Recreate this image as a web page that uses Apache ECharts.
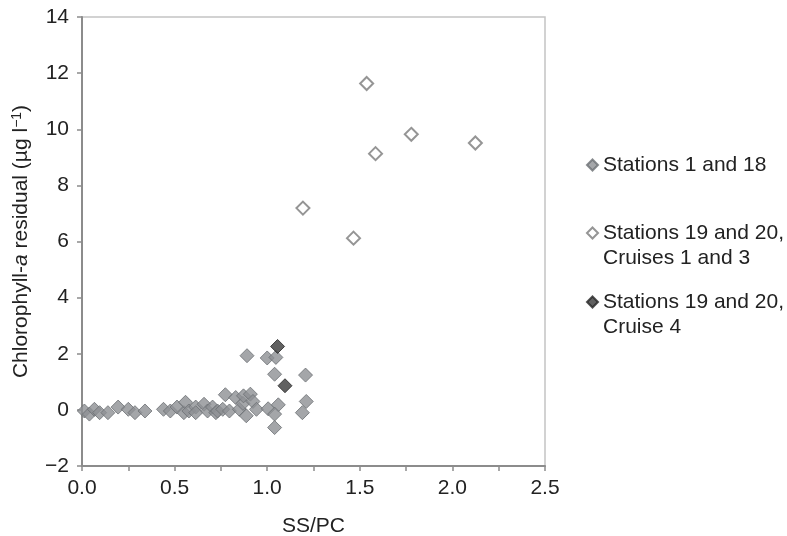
<!DOCTYPE html>
<html>
<head>
<meta charset="utf-8">
<script src="https://cdn.jsdelivr.net/npm/echarts@6/dist/echarts.min.js"></script>
<style>
  html, body { margin: 0; padding: 0; background: #fff; }
  #chart { width: 787px; height: 536px; }
</style>
</head>
<body>
<div id="chart"></div>
<script>
// SS/PC ratio (x) and chlorophyll-a residual (y) per station group
const stations118X = [0.013, 0.04, 0.067, 0.095, 0.14, 0.195, 0.25, 0.286, 0.34,
  0.44, 0.477, 0.513, 0.55, 0.559, 0.577, 0.614, 0.614, 0.659, 0.678, 0.705, 0.723,
  0.732, 0.76, 0.774, 0.796, 0.83, 0.85, 0.869, 0.872, 0.887, 0.909, 0.923, 0.942,
  0.891, 1.0, 1.047, 1.04, 1.005, 1.06, 1.04, 1.04, 1.207, 1.211, 1.19];
const stations118Y = [-0.04, -0.15, 0.02, -0.1, -0.1, 0.1, 0.02, -0.1, -0.04,
  0.02, -0.04, 0.1, -0.1, 0.27, -0.04, 0.1, -0.1, 0.2, -0.04, 0.1, -0.1,
  -0.04, 0.02, 0.54, -0.04, 0.44, 0.02, 0.23, 0.5, -0.21, 0.56, 0.3, 0.02,
  1.93, 1.85, 1.87, 1.27, 0.04, 0.18, -0.15, -0.63, 1.24, 0.3, -0.1];

const cruises13X = [1.537, 1.778, 2.124, 1.585, 1.193, 1.466];
const cruises13Y = [11.63, 9.82, 9.51, 9.13, 7.19, 6.12];

const cruise4X = [1.056, 1.096];
const cruise4Y = [2.26, 0.86];

const xTicks = { min: 0, max: 2.5, interval: 0.25 };
const yTicks = { min: -2, max: 14, interval: 2 };

const seriesNames = ['Stations 1 and 18', 'Stations 19 and 20,\nCruises 1 and 3', 'Stations 19 and 20,\nCruise 4'];

const pairs = (xs, ys) => xs.map((x, i) => [x, ys[i]]);

const FONT = 'Liberation Sans, Arial, sans-serif';
const TXT = '#222';
const AXIS = '#8c8c8c';
const LEGEND_LINE = 25;

const grayStyle = { color: '#8d9094', borderColor: '#6c6f73', borderWidth: 1 };
const openStyle = { color: '#ffffff', borderColor: '#7a7a7a', borderWidth: 2 };
const darkStyle = { color: '#3a3a3a', borderColor: '#262626', borderWidth: 1 };

// One legend block per series; the marker sits beside the first text line.
function legendBox(name, iconCenterY) {
  const multi = name.indexOf('\n') >= 0;
  const half = multi ? LEGEND_LINE * 1.5 : LEGEND_LINE / 2;
  return {
    data: [name],
    orient: 'vertical',
    left: 586,
    top: iconCenterY - half,
    padding: 0,
    itemWidth: 11,
    itemHeight: 11,
    itemGap: 0,
    selectedMode: false,
    formatter: n => (n.indexOf('\n') >= 0 ? '\n' + n : n),
    textStyle: { fontFamily: FONT, fontSize: 21, color: TXT, lineHeight: LEGEND_LINE }
  };
}

const chart = echarts.init(document.getElementById('chart'), null, { renderer: 'canvas' });
chart.setOption({
  animation: false,
  backgroundColor: '#fff',
  grid: {
    left: 82, right: 242, top: 17, bottom: 70,
    outerBoundsMode: 'none',
    containLabel: false,
    show: true, borderColor: '#c4c4c4', borderWidth: 1.5, backgroundColor: 'transparent'
  },
  legend: [
    legendBox(seriesNames[0], 165),
    legendBox(seriesNames[1], 233),
    legendBox(seriesNames[2], 302)
  ],
  xAxis: {
    type: 'value',
    min: xTicks.min, max: xTicks.max, interval: xTicks.interval,
    name: 'SS/PC', nameLocation: 'middle', nameGap: 50,
    nameTextStyle: { fontFamily: FONT, fontSize: 21, color: TXT },
    axisLine: { show: true, onZero: false, lineStyle: { color: AXIS, width: 2 } },
    axisTick: { show: true, inside: false, length: 5, lineStyle: { color: AXIS, width: 1.5 } },
    axisLabel: {
      fontFamily: FONT, fontSize: 21, color: TXT, margin: 12,
      formatter: v => (Math.abs(v / 0.5 - Math.round(v / 0.5)) < 1e-6 ? v.toFixed(1) : '')
    },
    splitLine: { show: false }
  },
  yAxis: {
    type: 'value',
    min: yTicks.min, max: yTicks.max, interval: yTicks.interval,
    name: '{n|Chlorophyll-}{i|a}{n| residual (µg l}{s|−1}{n|)}',
    nameLocation: 'middle', nameGap: 49, nameRotate: 90,
    nameTextStyle: {
      fontFamily: FONT, fontSize: 21, color: TXT,
      rich: {
        n: { fontFamily: FONT, fontSize: 21, color: TXT },
        i: { fontFamily: FONT, fontSize: 21, color: TXT, fontStyle: 'italic' },
        s: { fontFamily: FONT, fontSize: 14, color: TXT, padding: [0, 0, 9, 0] }
      }
    },
    axisLine: { show: true, onZero: false, lineStyle: { color: AXIS, width: 2 } },
    axisTick: { show: true, inside: false, length: 5, lineStyle: { color: AXIS, width: 1.5 } },
    axisLabel: {
      fontFamily: FONT, fontSize: 21, color: TXT, margin: 13,
      formatter: v => (v < 0 ? '\u2212' + Math.abs(v) : String(v))
    },
    splitLine: { show: false }
  },
  series: [
    {
      name: seriesNames[0], type: 'scatter', symbol: 'diamond', symbolSize: 14,
      itemStyle: grayStyle, data: pairs(stations118X, stations118Y), z: 2
    },
    {
      name: seriesNames[1], type: 'scatter', symbol: 'diamond', symbolSize: 13,
      itemStyle: openStyle, data: pairs(cruises13X, cruises13Y), z: 3
    },
    {
      name: seriesNames[2], type: 'scatter', symbol: 'diamond', symbolSize: 14,
      itemStyle: darkStyle, data: pairs(cruise4X, cruise4Y), z: 4
    }
  ]
});
</script>
</body>
</html>
